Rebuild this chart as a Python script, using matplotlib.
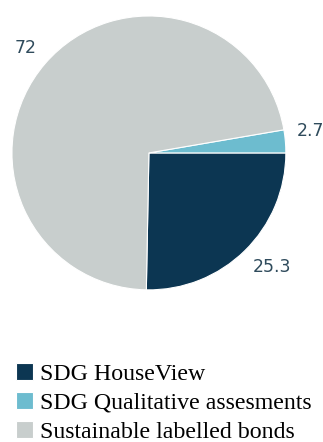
import matplotlib.pyplot as plt

# values
labels = ["SDG HouseView", "SDG Qualitative assesments", "Sustainable labelled bonds"]
values = [25.3, 2.7, 72]
colors = ["#0c3652", "#6dbccf", "#c8cecd"]

fig = plt.figure(figsize=(3.23, 4.42), dpi=100)
ax = fig.add_axes([0.037, 0.344, 0.848, 0.620])

# first slice runs from the bottom up to the 3 o'clock position
start = -values[0] / sum(values) * 360
wedges, texts = ax.pie(
    values,
    labels=[str(v) for v in values],
    colors=colors,
    startangle=start,
    counterclock=True,
    labeldistance=1.08,
    wedgeprops=dict(edgecolor="white", linewidth=0.8),
    textprops=dict(color="#2f4b5c", fontsize=12.5, family="DejaVu Sans"),
)
# labels above the centre sit on their anchor, labels below hang from it
for t in texts:
    t.set_va("bottom" if t.get_position()[1] > 0 else "top")
ax.set_xlim(-1, 1)
ax.set_ylim(-1, 1)
ax.set_aspect("equal")

fig.legend(
    wedges, labels,
    loc="upper left",
    bbox_to_anchor=(0.05, 0.178),
    frameon=False,
    borderpad=0,
    borderaxespad=0,
    handlelength=0.7,
    handleheight=0.7,
    handletextpad=0.3,
    labelspacing=0.3,
    prop=dict(family="Liberation Serif", size=17.2),
)

fig.savefig("out.png", dpi=100)
